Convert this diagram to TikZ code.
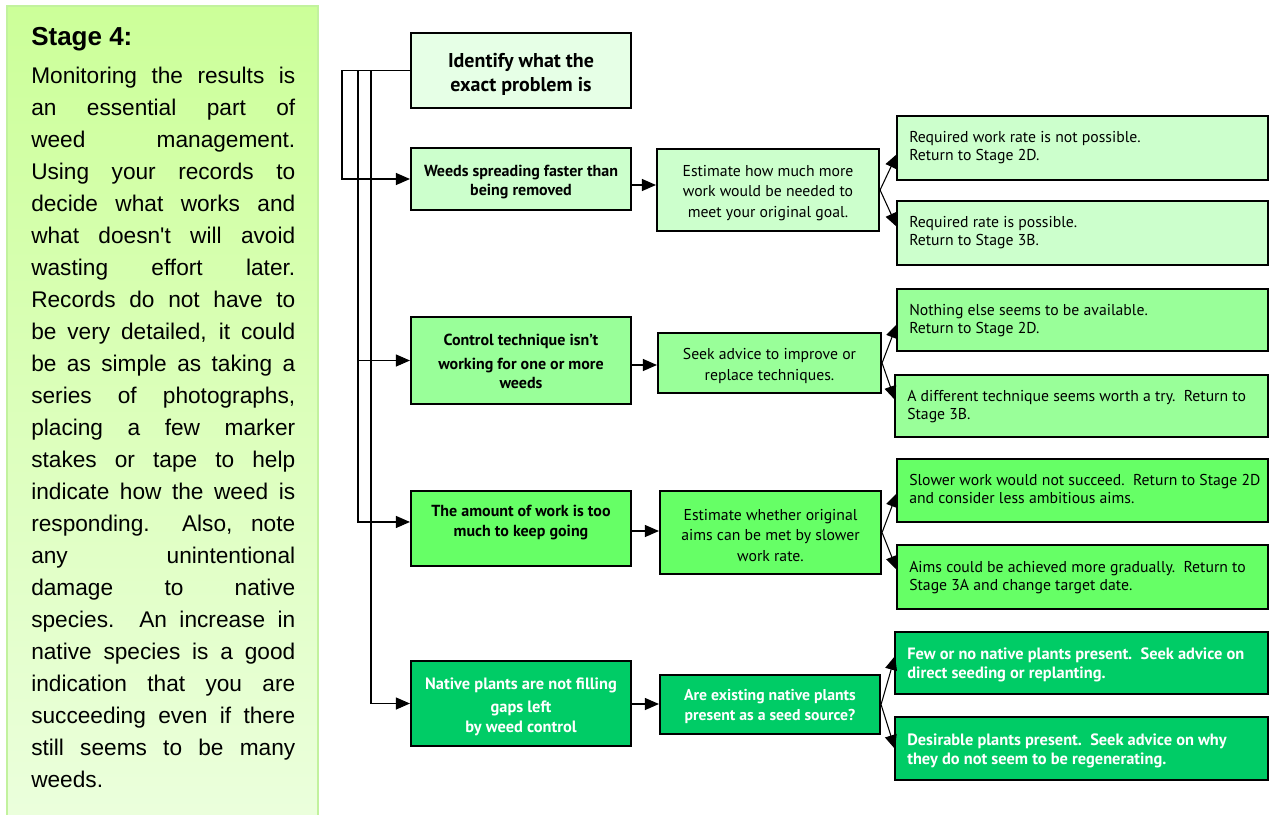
\documentclass[tikz,border=0pt]{standalone}
\usepackage{fontspec}
\setmainfont{PT Sans}
\newfontfamily\panelfont{Liberation Sans}
\usetikzlibrary{arrows.meta,fit}

\definecolor{panelTop}{HTML}{CCFF99}
\definecolor{panelBot}{HTML}{EBFFDC}
\definecolor{panelEdge}{HTML}{C2F29E}
\definecolor{lvlA}{HTML}{E6FFE6}
\definecolor{lvlB}{HTML}{CCFFCC}
\definecolor{lvlC}{HTML}{99FF99}
\definecolor{lvlD}{HTML}{66FF66}
\definecolor{lvlE}{HTML}{00CC66}

\tikzset{
  box/.style={draw=black, line width=1.6pt, inner sep=0pt},
  boxtext/.style={inner sep=0pt, align=center},
  leadtext/.style={boxtext, font=\bfseries\fontsize{12}{14.5}\selectfont},
  esttext/.style={boxtext, font=\fontsize{11.8}{15.5}\selectfont},
  restext/.style={anchor=north west, inner sep=0pt, align=left,
    font=\fontsize{11.8}{13.5}\selectfont},
  resbold/.style={restext, text=white, font=\bfseries\fontsize{12.3}{14}\selectfont},
  arr/.style={-{Triangle[length=10.5pt,width=9pt]}, line width=0.8pt},
  paraline/.style={anchor=base west, inner sep=0pt,
    font=\panelfont\fontsize{17}{24}\selectfont},
}

\begin{document}
\begin{tikzpicture}[x=0.75pt, y=-0.75pt]
\useasboundingbox (0,0) rectangle (1270,814);

% side panel
\shade[top color=panelTop, bottom color=panelBot] (7,6) rectangle (318,816);
\draw[panelEdge, line width=1.5pt] (7,816) -- (7,6) -- (318,6) -- (318,816);
\node[anchor=base west, inner sep=0pt, font=\panelfont\bfseries\fontsize{19.5}{24}\selectfont]
  (title) at (31,45) {Stage 4:};
\foreach \ln [count=\i] in {
  Monitoring the results is,
  an essential part of,
  weed management.,
  Using your records to,
  decide what works and,
  what doesn't will avoid,
  wasting effort later.,
  Records do not have to,
  {be very detailed, it could},
  be as simple as taking a,
  {series of photographs,},
  placing a few marker,
  stakes or tape to help,
  indicate how the weed is,
  {responding.\ \ Also, note},
  any unintentional,
  damage to native,
  species.\ \ An increase in,
  native species is a good,
  indication that you are,
  succeeding even if there,
  still seems to be many}
  \node[paraline] (p\i) at (31,{83+(\i-1)*32}) {\makebox[198pt][s]{\ln}};
\node[paraline] (plast) at (31,787) {weeds.};

% boxes
\node[box, fill=lvlA, fit={(411,33)(631,108)}] (top) {};
\node[box, fill=lvlB, fit={(411,148)(631,210)}] (n1) {};
\node[box, fill=lvlC, fit={(411,317)(631,404)}] (n2) {};
\node[box, fill=lvlD, fit={(411,491)(631,566)}] (n3) {};
\node[box, fill=lvlE, fit={(411,661)(631,746)}] (n4) {};

\node[box, fill=lvlB, fit={(657,149)(879,231)}] (e1) {};
\node[box, fill=lvlC, fit={(658,333)(881,393)}] (e2) {};
\node[box, fill=lvlD, fit={(660,491)(881,574)}] (e3) {};
\node[box, fill=lvlE, fit={(660,675)(880,734)}] (e4) {};

\node[box, fill=lvlB, fit={(897,116)(1268,180)}] (r1a) {};
\node[box, fill=lvlB, fit={(897,201)(1268,265)}] (r1b) {};
\node[box, fill=lvlC, fit={(897,289)(1268,351)}] (r2a) {};
\node[box, fill=lvlC, fit={(895,375)(1268,437)}] (r2b) {};
\node[box, fill=lvlD, fit={(897,459)(1268,522)}] (r3a) {};
\node[box, fill=lvlD, fit={(897,545)(1268,609)}] (r3b) {};
\node[box, fill=lvlE, fit={(895,632)(1268,694)}] (r4a) {};
\node[box, fill=lvlE, fit={(895,717)(1268,780)}] (r4b) {};

% box texts
\node[boxtext, font=\bfseries\fontsize{15}{18}\selectfont] (topt) at ([yshift=-3pt]top.center)
  {Identify what the\\exact problem is};
\node[leadtext] (n1t) at ([yshift=-2.25pt]n1.center) {Weeds spreading faster than\\being removed};
\node[leadtext] (n2t) at ([yshift=-0.75pt]n2.center) {Control technique isn't\\[3pt]working for one or more\\weeds};
\node[leadtext] (n3t) at ([yshift=4.5pt]n3.center) {The amount of work is too\\much to keep going};
\node[leadtext, text=white, font=\bfseries\fontsize{12.3}{15}\selectfont] (n4t)
  at ([yshift=-2.6pt]n4.center) {Native plants are not filling\\[2pt]gaps left\\by weed control};

\node[esttext] (e1t) at ([yshift=-2.25pt]e1.center) {Estimate how much more\\work would be needed to\\meet your original goal.};
\node[esttext] (e2t) at ([yshift=-2.25pt]e2.center) {Seek advice to improve or\\replace techniques.};
\node[esttext] (e3t) at ([yshift=-2.25pt]e3.center) {Estimate whether original\\aims can be met by slower\\work rate.};
\node[esttext, text=white, font=\bfseries\fontsize{11.8}{15}\selectfont] (e4t)
  at ([yshift=-1.5pt]e4.center) {Are existing native plants\\present as a seed source?};

\node[restext] (x1a) at (909,131) {Required work rate is not possible.\\Return to Stage 2D.};
\node[restext] (x1b) at (909,216) {Required rate is possible.\\Return to Stage 3B.};
\node[restext] (x2a) at (909,304) {Nothing else seems to be available.\\Return to Stage 2D.};
\node[restext] (x2b) at (907,390) {A different technique seems worth a try.\ \ Return to\\Stage 3B.};
\node[restext] (x3a) at (909,474) {Slower work would not succeed.\ \ Return to Stage 2D\\and consider less ambitious aims.};
\node[restext] (x3b) at (909,561) {Aims could be achieved more gradually.\ \ Return to\\Stage 3A and change target date.};
\node[resbold] (x4a) at (907,648)
  {Few or no native plants present.\ \ Seek advice on\\direct seeding or replanting.};
\node[resbold] (x4b) at (907,734)
  {Desirable plants present.\ \ Seek advice on why\\they do not seem to be regenerating.};

% trunk lines from the first box
\coordinate (b1) at (342,0);
\coordinate (b2) at (358,0);
\coordinate (b3) at (371,0);
\draw[arr] (top.west) -- (top.west -| b1) |- (n1.west);
\draw[arr] (top.west) -- (top.west -| b2) |- (n2.west);
\draw[arr] (top.west) -- (top.west -| b2) |- ([yshift=4.9pt]n3.west);
\draw[arr] (top.west) -- (top.west -| b3) |- (n4.west);

% first to second column
\coordinate (a1) at (0,185);
\coordinate (a2) at (0,365);
\coordinate (a3) at (0,531);
\coordinate (a4) at (0,704);
\draw[arr] (n1.east |- a1) -- (e1.west |- a1);
\draw[arr] (n2.east |- a2) -- (e2.west |- a2);
\draw[arr] (n3.east |- a3) -- (e3.west |- a3);
\draw[arr] (n4.east |- a4) -- (e4.west |- a4);

% second column to outcomes
\coordinate (t1a) at (897,154);
\coordinate (t1b) at (897,227);
\coordinate (t2a) at (897,324);
\coordinate (t2b) at (895,400);
\coordinate (t3a) at (897,493);
\coordinate (t3b) at (897,570);
\coordinate (t4a) at (895,656);
\coordinate (t4b) at (895,749);
\draw[arr] (e1.east) -- (t1a);
\draw[arr] (e1.east) -- (t1b);
\draw[arr] (e2.east) -- (t2a);
\draw[arr] (e2.east) -- (t2b);
\draw[arr] (e3.east) -- (t3a);
\draw[arr] (e3.east) -- (t3b);
\draw[arr] (e4.east) -- (t4a);
\draw[arr] (e4.east) -- (t4b);
\end{tikzpicture}
\end{document}
